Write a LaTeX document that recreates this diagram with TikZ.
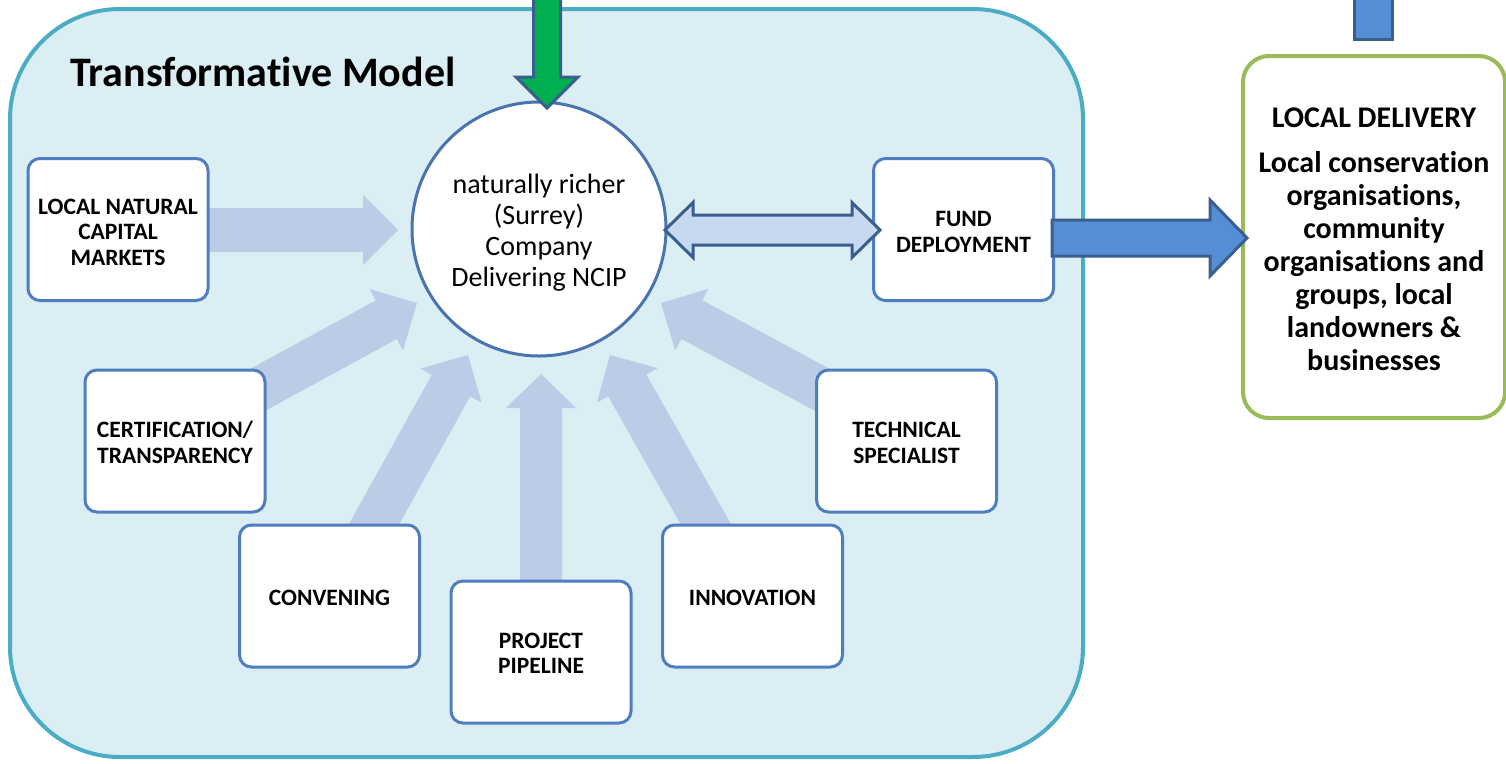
\documentclass[tikz,border=0pt]{standalone}
\usepackage{fontspec}
\setmainfont{Carlito}[Ligatures={NoCommon,NoRequired,NoContextual},Contextuals=NoAlternate]
\usetikzlibrary{calc}
\definecolor{contfill}{HTML}{DAEEF3}
\definecolor{contline}{HTML}{4BACC6}
\definecolor{boxline}{HTML}{4F7EC0}
\definecolor{circline}{HTML}{4A74B0}
\definecolor{fade}{HTML}{BCCCE7}
\definecolor{dblfill}{HTML}{C6D9F1}
\definecolor{darkline}{HTML}{3A5F8F}
\definecolor{bluefill}{HTML}{558ED5}
\definecolor{greenfill}{HTML}{00B050}
\definecolor{greenline}{HTML}{9BBB59}

% #1 start, #2 tip, #3 half shaft width, #4 half head width, #5 head length, #6 style
\newcommand\blockarrow[6]{%
  \coordinate (tmpH) at ($(#2)!#5pt!(#1)$);
  \path[#6] ($(#1)!#3pt!90:(#2)$) -- ($(tmpH)!#3pt!-90:(#1)$) -- ($(tmpH)!#4pt!-90:(#1)$) -- (#2)
    -- ($(tmpH)!#4pt!90:(#1)$) -- ($(tmpH)!#3pt!90:(#1)$) -- ($(#1)!#3pt!-90:(#2)$) -- cycle;
}
% double headed
\newcommand\dblblockarrow[6]{%
  \coordinate (tmpHa) at ($(#1)!#5pt!(#2)$);
  \coordinate (tmpHb) at ($(#2)!#5pt!(#1)$);
  \path[#6] (#1) -- ($(tmpHa)!#4pt!90:(#2)$) -- ($(tmpHa)!#3pt!90:(#2)$) -- ($(tmpHb)!#3pt!-90:(#1)$)
    -- ($(tmpHb)!#4pt!-90:(#1)$) -- (#2) -- ($(tmpHb)!#4pt!90:(#1)$) -- ($(tmpHb)!#3pt!90:(#1)$)
    -- ($(tmpHa)!#3pt!-90:(#2)$) -- ($(tmpHa)!#4pt!-90:(#2)$) -- cycle;
}

\begin{document}
\begin{tikzpicture}[x=1pt,y=-1pt,
  capbox/.style={draw=boxline, line width=3, fill=white, rounded corners=12,
    minimum width=180, minimum height=142, inner sep=0},
  captext/.style={align=center, inner sep=0, font=\fontsize{23.5}{25.5}\selectfont\bfseries},
  fadearrow/.style={fill=fade},
  bluearrow/.style={fill=bluefill, draw=darkline, line width=3},
  greenarrow/.style={fill=greenfill, draw=darkline, line width=3},
  dblarrow/.style={fill=dblfill, draw=darkline, line width=3},
]
\useasboundingbox (0,0) rectangle (1506,763);

% container
\draw[contline, line width=4, fill=contfill, rounded corners=110] (10,9) rectangle (1083,757);
\node[anchor=base west, inner sep=0, font=\fontsize{42}{44}\selectfont\bfseries] (title) at (70,86) {Transformative Model};

% faded arrow coordinates
\coordinate (a1s) at (200,230);   \coordinate (a1t) at (398,230);
\coordinate (a2s) at (250,394);   \coordinate (a2t) at (417,303);
\coordinate (a3s) at (368,535);   \coordinate (a3t) at (468,355);
\coordinate (a4s) at (541,590);   \coordinate (a4t) at (541,374);
\coordinate (a5s) at (712,535);   \coordinate (a5t) at (610,355);
\coordinate (a6s) at (830,394);   \coordinate (a6t) at (661,303);
\blockarrow{a1s}{a1t}{22}{35}{35}{fadearrow}
\blockarrow{a2s}{a2t}{22}{35}{35}{fadearrow}
\blockarrow{a3s}{a3t}{22}{35}{35}{fadearrow}
\blockarrow{a4s}{a4t}{21}{35}{34}{fadearrow}
\blockarrow{a5s}{a5t}{22}{35}{35}{fadearrow}
\blockarrow{a6s}{a6t}{22}{35}{35}{fadearrow}

% boxes
\node[capbox] (lncm) at (118,229.5) {};
\node[capbox] (cert) at (175,441) {};
\node[capbox] (conv) at (329.5,596) {};
\node[capbox] (pipe) at (541,652) {};
\node[capbox] (inno) at (752.5,596) {};
\node[capbox] (tech) at (906.5,441) {};
\node[capbox] (fund) at (963.5,229.5) {};
\node[captext] (lncmt) at ($(lncm.center)+(0,2.5)$) {LOCAL NATURAL\\CAPITAL\\MARKETS};
\node[captext] (certt) at ($(cert.center)+(0,1.5)$) {CERTIFICATION/\\TRANSPARENCY};
\node[captext] (convt) at ($(conv.center)+(0,2)$) {CONVENING};
\node[captext] (pipet) at ($(pipe.center)+(0,1.5)$) {PROJECT\\PIPELINE};
\node[captext] (innot) at ($(inno.center)+(0,2)$) {INNOVATION};
\node[captext] (techt) at ($(tech.center)+(0,2)$) {TECHNICAL\\SPECIALIST};
\node[captext] (fundt) at ($(fund.center)+(0,2.5)$) {FUND\\DEPLOYMENT};

% circle
\node[circle, draw=circline, line width=3, fill=white, minimum size=254, inner sep=0] (ncip) at (539,229) {};
\node[align=center, inner sep=0, font=\fontsize{28}{31}\selectfont] (ncipt) at ($(ncip.center)+(0,3.5)$)
  {naturally richer\\(Surrey)\\Company\\Delivering NCIP};

% double arrow circle <-> fund
\coordinate (d1) at (665,230); \coordinate (d2) at (880,230);
\dblblockarrow{d1}{d2}{15}{27.5}{28}{dblarrow}

% green box
\node[draw=greenline, line width=4, fill=white, rounded corners=26, minimum width=262, minimum height=362,
  inner sep=0] (local) at (1374,237) {};
\node[align=center, inner sep=0, font=\fontsize{30}{33}\selectfont\bfseries] (localt) at ($(local.center)+(0,2)$)
  {LOCAL DELIVERY\\[12pt]Local conservation\\organisations,\\community\\organisations and\\groups, local\\landowners \&\\businesses};

% blue arrow fund -> local
\coordinate (b1) at (1052,238); \coordinate (b2) at (1247,238);
\blockarrow{b1}{b2}{18}{38}{37}{bluearrow}

% green arrow into circle
\coordinate (g1) at (547,-10); \coordinate (g2) at (547,108);
\blockarrow{g1}{g2}{13.5}{31}{31}{greenarrow}

% blue bar into local delivery (top right)
\draw[bluearrow] (1354,-10) rectangle (1392,39);
\end{tikzpicture}
\end{document}
